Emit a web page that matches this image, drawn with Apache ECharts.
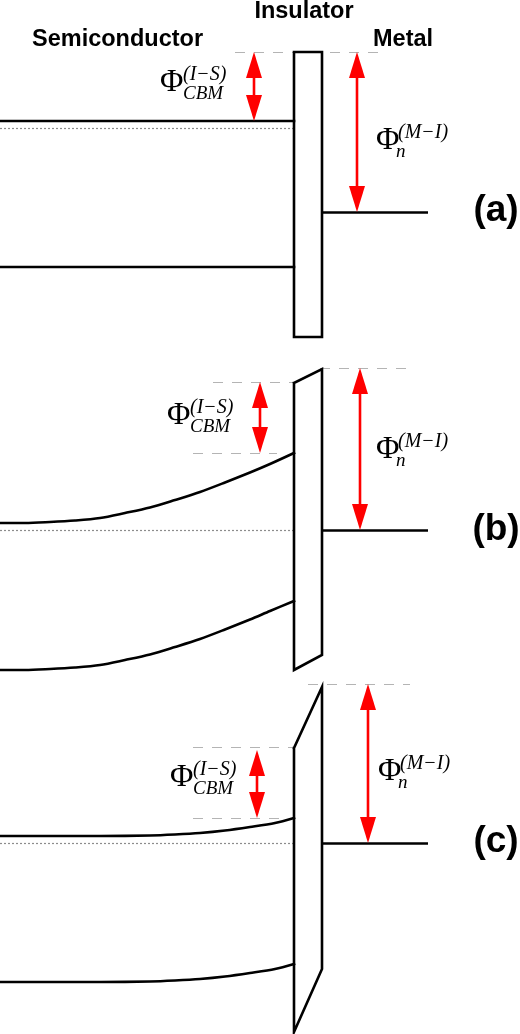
<!DOCTYPE html>
<html>
<head>
<meta charset="utf-8">
<script src="https://cdn.jsdelivr.net/npm/echarts@6/dist/echarts.min.js"></script>
<style>
    html, body { margin: 0; padding: 0; background: #fff; }
    #main { width: 520px; height: 1034px; }
</style>
</head>
<body>
<div id="main"></div>
<script>
// diagram units: x = position across the junction, y = energy (drawn downward)
// panel (a) flat bands
var condA = [[0, 121], [294, 121]];
var valA = [[0, 267], [294, 267]];
var insA = [[294, 52], [322, 52], [322, 337], [294, 337], [294, 52]];
// panel (b) strong band bending
var condB = [[0, 523], [25, 523], [50, 522], [75, 520.5], [100, 518], [125, 513], [150, 507.5],
    [175, 500], [200, 492], [225, 482.5], [250, 472.5], [270, 464], [294, 453]];
var valB = [[0, 670], [25, 670], [50, 669], [75, 667.5], [100, 665], [125, 660], [150, 654.5],
    [175, 647], [200, 639], [225, 629.5], [250, 619.5], [270, 611], [294, 601]];
var insB = [[294, 383], [322, 369], [322, 655], [294, 670], [294, 383]];
// panel (c) weak bending near the interface
var condC = [[0, 836], [100, 836], [150, 835.5], [175, 834.5], [200, 833], [225, 830.5], [250, 827], [275, 823], [294, 818]];
var valC = [[0, 982], [100, 982], [150, 981.5], [175, 980.5], [200, 979], [225, 976.5], [250, 973], [275, 969], [294, 964]];
var insC = [[294, 748], [322, 687], [322, 969], [294, 1032], [294, 748]];

// fermi level (dotted) and metal level, per panel
var fermiLines = [[[0, 128], [294, 128]], [[0, 530], [294, 530]], [[0, 843], [294, 843]]];
var metalLines = [[[322, 212], [428, 212]], [[322, 530], [428, 530]], [[322, 843], [428, 843]]];
// grey dashed guides
var guideLines = [
    [[235, 52], [380, 52]],
    [[320, 368], [413, 368]], [[213, 382], [293, 382]], [[193, 453], [277, 453]],
    [[308, 684], [410, 684]], [[193, 747], [293, 747]], [[193, 818], [280, 818]]
];
// red double arrows: [x, top, bottom]
var arrowsCBM = [[254, 52, 121], [260, 382, 453], [257, 750, 818]];
var arrowsN = [[357, 52, 212], [360, 368, 530], [368, 684, 843]];
// label anchors (left edge / centre of the Phi)
var labelCBM = [[160, 83], [167, 416], [170, 778]];
var labelN = [[376, 141], [376, 450], [378, 772]];
// text
var headers = ['Semiconductor', 'Insulator', 'Metal'];
var headerPos = [[32, 40], [304, 12], [373, 40]];
var headerAlign = ['left', 'center', 'left'];
var panelNames = ['(a)', '(b)', '(c)'];
var panelPos = [[496, 211], [496, 530], [496, 842]];

var dom = document.getElementById('main');
var myChart = echarts.init(dom, null, { renderer: 'canvas' });

var black = { color: '#000', width: 2.6, cap: 'square', join: 'miter' };
var sans = '"Liberation Sans", Arial, sans-serif';
var serif = '"Liberation Serif", "DejaVu Serif", serif';

function band(data) {
    return {
        type: 'line', data: data, symbol: 'none', smooth: 0.3,
        lineStyle: black, silent: true, z: 3
    };
}
function insulator(data) {
    return { type: 'line', data: data, symbol: 'none', lineStyle: black, silent: true, z: 5 };
}
function segs(list) {
    return list.map(function (c) { return { coords: c }; });
}

function renderArrow(params, api) {
    var x = api.value(0);
    var p1 = api.coord([x, api.value(1)]);
    var p2 = api.coord([x, api.value(2)]);
    var hl = 26, hw = 8;
    var red = '#ff0000';
    return {
        type: 'group',
        children: [
            { type: 'line', shape: { x1: p1[0], y1: p1[1] + hl - 2, x2: p2[0], y2: p2[1] - hl + 2 },
              style: { stroke: red, lineWidth: 2.6 } },
            { type: 'polygon', shape: { points: [[p1[0], p1[1]], [p1[0] - hw, p1[1] + hl], [p1[0] + hw, p1[1] + hl]] },
              style: { fill: red } },
            { type: 'polygon', shape: { points: [[p2[0], p2[1]], [p2[0] - hw, p2[1] - hl], [p2[0] + hw, p2[1] - hl]] },
              style: { fill: red } }
        ]
    };
}

function phiLabel(sup, sub, dxSup, dxSub) {
    return function (params, api) {
        var p = api.coord([api.value(0), api.value(1)]);
        return {
            type: 'group',
            children: [
                { type: 'text', x: p[0], y: p[1],
                  style: { text: '\u03A6', font: 'normal 32px ' + serif, fill: '#000', align: 'left', verticalAlign: 'middle' } },
                { type: 'text', x: p[0] + dxSup, y: p[1] - 8,
                  style: { text: sup, font: 'italic 20px ' + serif, fill: '#000', align: 'left', verticalAlign: 'middle' } },
                { type: 'text', x: p[0] + dxSub, y: p[1] + 11,
                  style: { text: sub, font: 'italic 19px ' + serif, fill: '#000', align: 'left', verticalAlign: 'middle' } }
            ]
        };
    };
}

function textLabels(names, pos, size, aligns) {
    return {
        type: 'custom', silent: true, z: 10,
        data: pos,
        renderItem: function (params, api) {
            var p = api.coord([api.value(0), api.value(1)]);
            return {
                type: 'text', x: p[0], y: p[1],
                style: {
                    text: names[params.dataIndex], fill: '#000',
                    font: 'bold ' + size + 'px ' + sans,
                    align: aligns[params.dataIndex], verticalAlign: 'middle'
                }
            };
        }
    };
}

option = {
    animation: false,
    backgroundColor: '#fff',
    grid: { left: 0, right: 0, top: 0, bottom: 0 },
    xAxis: { type: 'value', min: 0, max: 520, show: false },
    yAxis: { type: 'value', min: 0, max: 1034, inverse: true, show: false },
    series: [
        {
            type: 'lines', coordinateSystem: 'cartesian2d', silent: true, z: 1,
            data: segs(guideLines),
            lineStyle: { color: '#b4b4b4', width: 1.2, type: [10, 9], opacity: 1 }
        },
        {
            type: 'lines', coordinateSystem: 'cartesian2d', silent: true, z: 1,
            data: segs(fermiLines),
            lineStyle: { color: '#8c8c8c', width: 1.2, type: [2, 2], opacity: 1 }
        },
        {
            type: 'lines', coordinateSystem: 'cartesian2d', silent: true, z: 3,
            data: segs(metalLines),
            lineStyle: { color: '#000', width: 2.6, opacity: 1 }
        },
        band(condA), band(valA), band(condB), band(valB), band(condC), band(valC),
        insulator(insA), insulator(insB), insulator(insC),
        { type: 'custom', renderItem: renderArrow, data: arrowsCBM, silent: true, z: 6 },
        { type: 'custom', renderItem: renderArrow, data: arrowsN, silent: true, z: 6 },
        { type: 'custom', renderItem: phiLabel('(I\u2212S)', 'CBM', 23, 23), data: labelCBM, silent: true, z: 7 },
        { type: 'custom', renderItem: phiLabel('(M\u2212I)', 'n', 22, 20), data: labelN, silent: true, z: 7 },
        textLabels(headers, headerPos, 23.5, headerAlign),
        textLabels(panelNames, panelPos, 37, ['center', 'center', 'center'])
    ]
};
if (option && typeof option === "object") {
    myChart.setOption(option, true);
}
</script>
</body>
</html>
